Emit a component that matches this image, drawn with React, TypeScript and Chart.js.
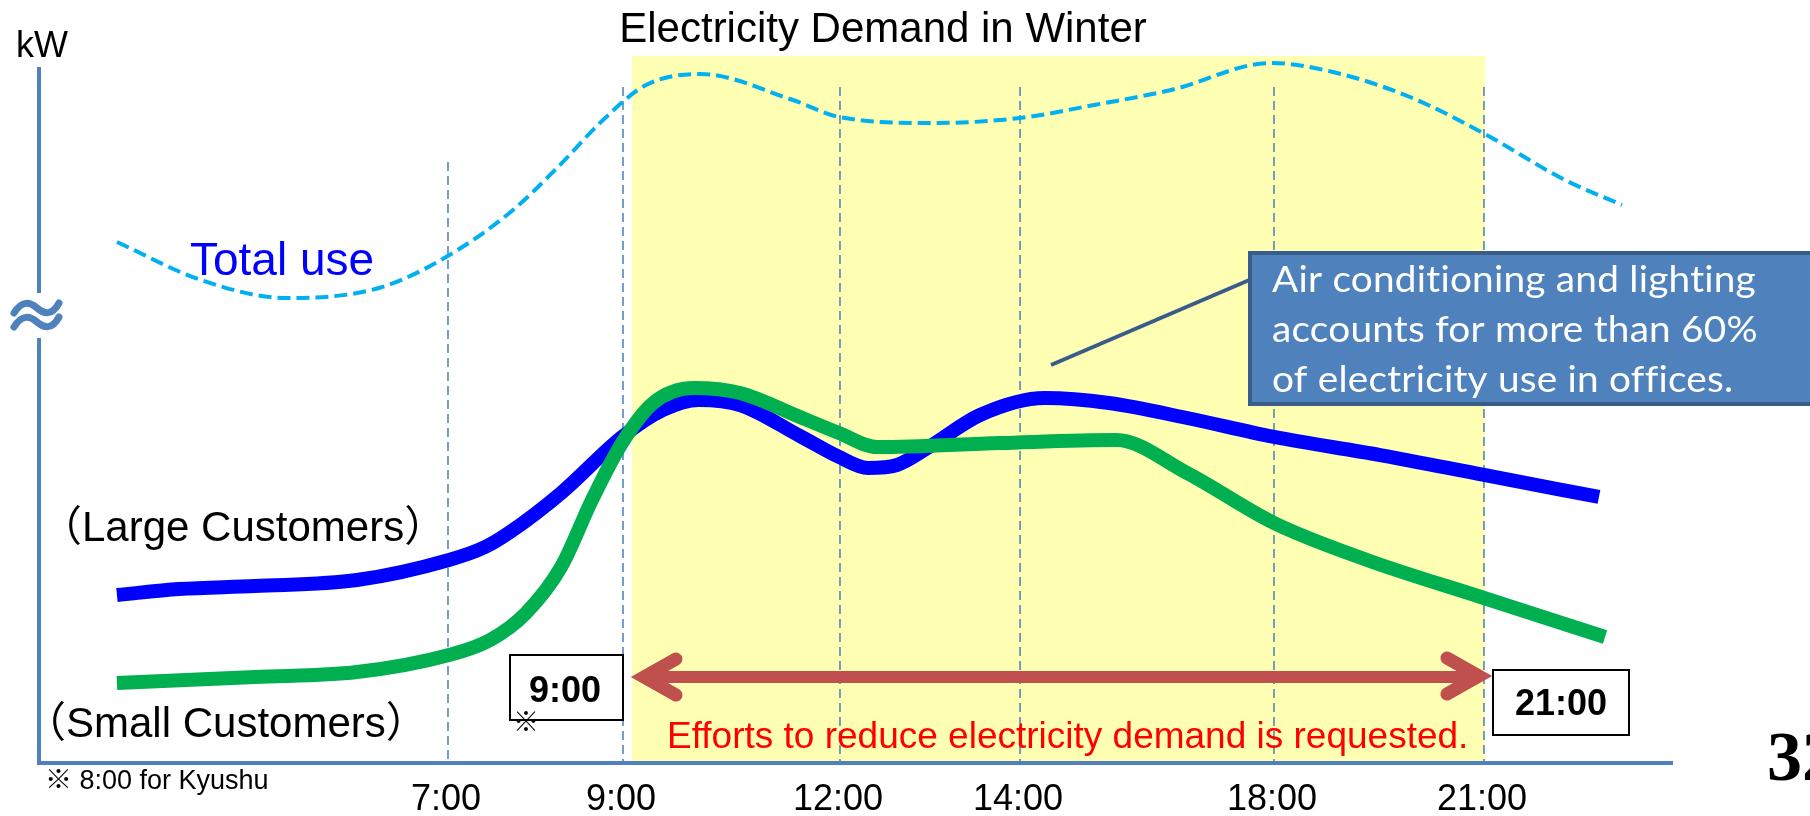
import React, { useEffect, useRef } from 'react';
import { Chart, registerables } from 'chart.js';

Chart.register(...registerables);

// ---- schematic x positions of the time ticks (axis units 0..100) ----
const timeTickPos = [25.03, 35.74, 49.02, 60.04, 75.58, 88.43];
const timeTickLabels = ['7:00', '9:00', '12:00', '14:00', '18:00', '21:00'];
const gridTopY = [86.35, 97.13, 97.13, 97.13, 97.13, 97.13];

// ---- highlighted period (9:00 – 21:00) ----
const highlightRange = [36.29, 88.49];
const highlightTop = 101.58;

// ---- Total use (dashed) ----
const totalX = [4.77, 9.91, 15.12, 20.81, 24.91, 29.01, 31.76, 34.52, 37.15, 40.45, 46.14, 48.96, 54.65, 60.04, 64.57, 69.28, 75.4, 79.19, 83.9, 88.37, 93.39, 96.88];
const totalY = [74.86, 69.4, 66.81, 68.25, 72.7, 79.45, 85.63, 92.39, 97.41, 98.99, 95.26, 92.82, 91.95, 92.67, 94.54, 96.7, 100.57, 99.28, 95.69, 90.52, 83.76, 80.17];

// ---- Large customers ----
const largeX = [4.77, 8.57, 13.22, 19.46, 25.09, 27.3, 28.83, 31.95, 35.68, 38.19, 40.39, 42.9, 46.57, 48.96, 50.73, 52.51, 54.47, 57.59, 61.57, 65.48, 70.26, 75.58, 82.07, 88.43, 95.47];
const largeY = [24.14, 25.0, 25.43, 26.29, 29.17, 31.03, 33.19, 38.79, 46.84, 50.72, 52.16, 51.44, 46.98, 43.97, 42.39, 42.82, 45.4, 50.0, 52.44, 51.72, 49.57, 46.84, 44.25, 41.38, 38.22];

// ---- Small customers ----
const smallX = [4.77, 13.22, 19.46, 25.09, 27.6, 29.8, 31.95, 33.84, 35.68, 37.58, 40.09, 42.9, 46.57, 48.96, 51.29, 58.81, 65.91, 70.26, 75.58, 81.27, 88.43, 95.84];
const smallY = [11.49, 12.36, 13.07, 15.52, 17.67, 21.55, 28.16, 37.79, 45.98, 51.72, 53.88, 53.16, 49.71, 47.41, 45.4, 45.98, 46.41, 41.67, 34.48, 29.17, 23.71, 18.1];

const calloutLines = ['Air conditioning and lighting', 'accounts for more than 60%', 'of electricity use in offices.'];

const toPts = (xs: number[], ys: number[]) => xs.map((x, i) => ({ x, y: ys[i] }));

const SANS = '"Liberation Sans", Arial, "Noto Sans CJK JP", sans-serif';

function text(ctx: CanvasRenderingContext2D, s: string, x: number, y: number, font: string, color: string, align: CanvasTextAlign = 'left') {
  ctx.save();
  ctx.font = font;
  ctx.fillStyle = color;
  ctx.textAlign = align;
  ctx.textBaseline = 'alphabetic';
  ctx.fillText(s, x, y);
  ctx.restore();
}

const decor = {
  id: 'decor',
  beforeDatasetsDraw(chart: any) {
    const ctx: CanvasRenderingContext2D = chart.ctx;
    const xs = chart.scales.x;
    const ys = chart.scales.y;
    const X = (v: number) => xs.getPixelForValue(v);
    const Y = (v: number) => ys.getPixelForValue(v);
    const area = chart.chartArea;
    ctx.save();
    ctx.fillStyle = '#FFFFB3';
    const x0 = X(highlightRange[0]);
    const x1 = X(highlightRange[1]);
    ctx.fillRect(x0, Y(highlightTop), x1 - x0, area.bottom + 2 - Y(highlightTop));
    ctx.strokeStyle = '#4A7EBB';
    ctx.lineWidth = 1.5;
    ctx.setLineDash([9, 5]);
    timeTickPos.forEach((p, i) => {
      ctx.beginPath();
      ctx.moveTo(X(p), Y(gridTopY[i]));
      ctx.lineTo(X(p), area.bottom);
      ctx.stroke();
    });
    ctx.setLineDash([]);
    ctx.restore();
  },
  afterDatasetsDraw(chart: any) {
    const ctx: CanvasRenderingContext2D = chart.ctx;
    const xs = chart.scales.x;
    const X = (v: number) => xs.getPixelForValue(v);
    const area = chart.chartArea;
    ctx.save();
    // axes
    ctx.strokeStyle = '#4F81BD';
    ctx.lineWidth = 4;
    ctx.beginPath();
    ctx.moveTo(area.left, area.top);
    ctx.lineTo(area.left, 293);
    ctx.moveTo(area.left, 338);
    ctx.lineTo(area.left, area.bottom + 2);
    ctx.moveTo(area.left - 2, area.bottom);
    ctx.lineTo(area.right, area.bottom);
    ctx.stroke();
    // break symbol
    ctx.lineWidth = 7;
    ctx.lineCap = 'round';
    [0, 14].forEach((o) => {
      ctx.beginPath();
      ctx.moveTo(14, 313 + o);
      ctx.bezierCurveTo(22, 300 + o, 30, 302 + o, 37, 308 + o);
      ctx.bezierCurveTo(44, 314 + o, 52, 316 + o, 59, 303 + o);
      ctx.stroke();
    });
    ctx.lineCap = 'butt';

    // tick labels
    timeTickPos.forEach((p, i) => text(ctx, timeTickLabels[i], X(p) - 2, 810, '36px ' + SANS, '#000', 'center'));

    // title & unit
    text(ctx, 'Electricity Demand in Winter', 883, 42, '42px ' + SANS, '#000', 'center');
    text(ctx, 'kW', 16, 57, '36px ' + SANS, '#000');

    // series labels
    text(ctx, 'Total use', 190, 275, '46px ' + SANS, '#0000FF');
    text(ctx, '（Large Customers）', 40, 541, '42px ' + SANS, '#000');
    text(ctx, '（Small Customers）', 24, 737, '42px ' + SANS, '#000');
    text(ctx, '※ 8:00 for Kyushu', 45, 789, '27px ' + SANS, '#000');

    // red double arrow
    ctx.strokeStyle = '#C0504D';
    ctx.lineWidth = 12;
    ctx.beginPath();
    ctx.moveTo(X(highlightRange[0]) + 14, 677);
    ctx.lineTo(X(highlightRange[1]) - 8, 677);
    ctx.stroke();
    ctx.lineWidth = 13;
    ctx.lineCap = 'round';
    ctx.lineJoin = 'miter';
    const lt = X(highlightRange[0]) + 12;
    const rt = X(highlightRange[1]) - 6;
    ctx.beginPath();
    ctx.moveTo(lt + 32, 659);
    ctx.lineTo(lt, 677);
    ctx.lineTo(lt + 32, 695);
    ctx.stroke();
    ctx.beginPath();
    ctx.moveTo(rt - 32, 658);
    ctx.lineTo(rt, 676);
    ctx.lineTo(rt - 32, 694);
    ctx.stroke();
    ctx.lineCap = 'butt';

    text(ctx, 'Efforts to reduce electricity demand is requested.', 667, 748, '37px ' + SANS, '#FF0000');

    // time boxes
    ctx.fillStyle = '#FFFFFF';
    ctx.strokeStyle = '#000';
    ctx.lineWidth = 2;
    ctx.fillRect(510, 655, 113, 65);
    ctx.strokeRect(510, 655, 113, 65);
    text(ctx, '9:00', 565, 702, 'bold 36px ' + SANS, '#000', 'center');
    text(ctx, '※', 513, 731, '26px "Noto Sans CJK JP", sans-serif', '#000');
    ctx.fillStyle = '#FFFFFF';
    ctx.fillRect(1493, 670, 136, 65);
    ctx.strokeRect(1493, 670, 136, 65);
    text(ctx, '21:00', 1561, 715, 'bold 36px ' + SANS, '#000', 'center');

    // callout
    ctx.strokeStyle = '#385D8A';
    ctx.lineWidth = 4;
    ctx.beginPath();
    ctx.moveTo(1051, 365);
    ctx.lineTo(1254, 278);
    ctx.stroke();
    ctx.fillStyle = '#4F81BD';
    ctx.fillRect(1250, 253, 580, 151);
    ctx.strokeRect(1250, 253, 580, 151);
    ctx.save();
    ctx.font = '36px Lato, "Open Sans", sans-serif';
    (ctx as any).letterSpacing = '0.2px';
    const w0 = ctx.measureText(calloutLines[0]).width;
    const sx = 484 / w0;
    ctx.fillStyle = '#FFFFFF';
    ctx.textBaseline = 'alphabetic';
    ctx.translate(1272, 0);
    ctx.scale(sx, 1);
    calloutLines.forEach((l, i) => ctx.fillText(l, 0, 292 + i * 50));
    ctx.restore();

    // page number
    text(ctx, '32', 1767, 780, 'bold 70px "Liberation Serif", "Times New Roman", serif', '#000');
    ctx.restore();
  },
};

export default function App() {
  const ref = useRef<HTMLCanvasElement>(null);
  useEffect(() => {
    const canvas = ref.current!;
    const common = {
      pointRadius: 0,
      cubicInterpolationMode: 'monotone' as const,
      clip: false as any,
      fill: false,
      borderCapStyle: 'butt' as const,
      borderJoinStyle: 'round' as const,
    };
    const chart = new Chart(canvas, {
      type: 'line',
      data: {
        datasets: [
          { label: 'Small Customers', data: toPts(smallX, smallY), borderColor: '#00B050', borderWidth: 14, ...common },
          { label: 'Large Customers', data: toPts(largeX, largeY), borderColor: '#0000FF', borderWidth: 14, ...common },
          { label: 'Total use', data: toPts(totalX, totalY), borderColor: '#00B0F0', borderWidth: 4, borderDash: [13, 6], ...common },
        ],
      },
      options: {
        responsive: false,
        animation: false,
        devicePixelRatio: 1,
        events: [],
        layout: { padding: { left: 39, right: 137, top: 67, bottom: 53 } },
        scales: {
          x: { type: 'linear', min: 0, max: 100, display: false },
          y: { type: 'linear', min: 0, max: 100, display: false },
        },
        plugins: { legend: { display: false }, tooltip: { enabled: false } },
      },
      plugins: [decor],
    });
    return () => chart.destroy();
  }, []);
  return (
    <canvas
      ref={ref}
      width={1810}
      height={816}
      style={{ position: 'absolute', left: 0, top: 0, width: 1810, height: 816 }}
    />
  );
}
